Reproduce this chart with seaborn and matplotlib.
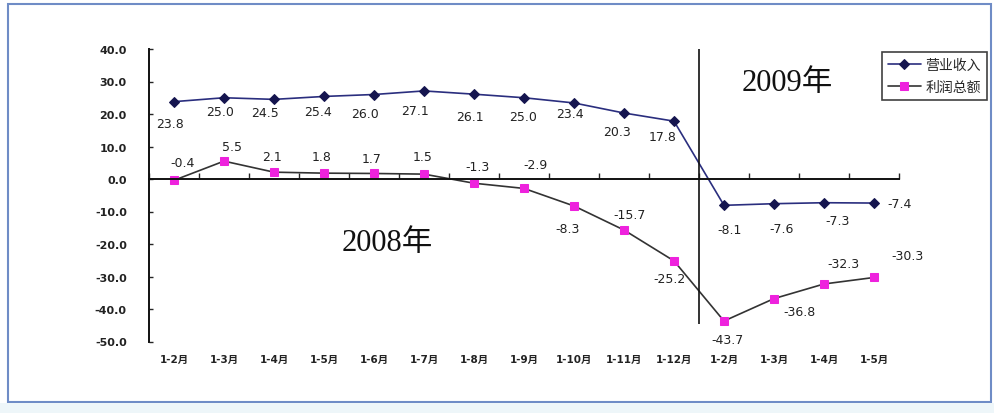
import numpy as np
import matplotlib.pyplot as plt
import seaborn as sns
from matplotlib.patches import Rectangle
from matplotlib.ticker import FormatStrFormatter

# Data (cumulative growth, %)
categories = ['1-2月', '1-3月', '1-4月', '1-5月', '1-6月', '1-7月', '1-8月', '1-9月',
              '1-10月', '1-11月', '1-12月', '1-2月', '1-3月', '1-4月', '1-5月']
revenue = [23.8, 25.0, 24.5, 25.4, 26.0, 27.1, 26.1, 25.0, 23.4, 20.3, 17.8,
           -8.1, -7.6, -7.3, -7.4]
profit = [-0.4, 5.5, 2.1, 1.8, 1.7, 1.5, -1.3, -2.9, -8.3, -15.7, -25.2,
          -43.7, -36.8, -32.3, -30.3]
series_names = ['营业收入', '利润总额']

# label offsets in pixels (dx, dy with dy pointing down)
rev_offsets = [(-4, 22), (-4, 14), (-9, 13), (-6, 15), (-9, 19), (-9, 20), (-4, 22), (-1, 19),
               (-4, 11), (-7, 18), (-11, 15), (6, 24), (8, 25), (14, 18), (26, 0)]
pro_offsets = [(9, -18), (8, -15), (-2, -16), (-2, -17), (-2, -15), (-1, -18), (4, -17), (11, -24),
               (-6, 23), (6, -16), (-4, 18), (3, 18), (26, 13), (19, -20), (33, -22)]

sns.set_style('white')
plt.rcParams['font.family'] = ['DejaVu Sans', 'Noto Sans CJK SC']

fig = plt.figure(figsize=(9.94, 4.14), dpi=100)
fig.patch.set_facecolor('white')
ax = fig.add_axes([149 / 994, 1 - 342.5 / 414, 750 / 994, 292.5 / 414])

x = np.arange(len(categories))
rev_color = '#2a2e7e'
pro_color = '#ee22dd'

sns.lineplot(x=x, y=revenue, ax=ax, color=rev_color, lw=1.2, marker='D', markersize=5.5,
             markerfacecolor='#15154f', markeredgecolor='#15154f', label=series_names[0])
sns.lineplot(x=x, y=profit, ax=ax, color='#333333', lw=1.2, marker='s', markersize=6,
             markerfacecolor=pro_color, markeredgecolor=pro_color, label=series_names[1])

lab_font = dict(fontsize=9, color='#222222', ha='center', va='center')
for i in range(len(x)):
    dx, dy = rev_offsets[i]
    ax.annotate(f'{revenue[i]:.1f}', (x[i], revenue[i]), xytext=(dx, -dy),
                textcoords='offset pixels', **lab_font)
    dx, dy = pro_offsets[i]
    ax.annotate(f'{profit[i]:.1f}', (x[i], profit[i]), xytext=(dx, -dy),
                textcoords='offset pixels', **lab_font)

# divider between 2008 and 2009
ax.vlines(10.5, -44.5, 40, color='#111111', lw=1.2)

year_font = dict(fontsize=22, color='#111111', ha='center', va='center',
                 family=['Liberation Serif', 'Noto Sans CJK SC'])
ax.text(4.26, -19.4, '2008年', **year_font)
ax.text(12.26, 29.8, '2009年', **year_font)

ax.set_xlim(-0.5, 14.5)
ax.set_ylim(-50, 40)
ax.set_yticks(np.arange(-50, 41, 10))
ax.yaxis.set_major_formatter(FormatStrFormatter('%.1f'))
ax.tick_params(axis='y', direction='in', length=3, width=1, pad=16,
               labelsize=8, labelcolor='#222222', left=True)
for t in ax.get_yticklabels():
    t.set_fontweight('bold')

ax.spines['top'].set_visible(False)
ax.spines['right'].set_visible(False)
ax.spines['left'].set_linewidth(1.4)
ax.spines['left'].set_color('#111111')
ax.spines['bottom'].set_position(('data', 0))
ax.spines['bottom'].set_linewidth(1.4)
ax.spines['bottom'].set_color('#111111')
ax.set_xticks(np.arange(-0.5, 15, 1))
ax.set_xticklabels([])
ax.tick_params(axis='x', direction='in', length=4, width=1, bottom=True)

sec = ax.secondary_xaxis('bottom')
sec.set_xticks(x)
sec.set_xticklabels(categories, fontsize=7.5, fontweight='bold', color='#222222')
sec.tick_params(length=0, pad=9)
sec.spines['bottom'].set_visible(False)

leg = ax.legend(loc='upper right', bbox_to_anchor=(987 / 994, 1 - 53 / 414),
                bbox_transform=fig.transFigure, frameon=True, fancybox=False,
                edgecolor='#111111', fontsize=10, handlelength=2.4, handletextpad=0.3,
                borderpad=0.45, labelspacing=0.55, borderaxespad=0)
leg.get_frame().set_linewidth(1.2)

# slide frame
fig.add_artist(Rectangle((8 / 994, 1 - 403 / 414), 983 / 994, 398 / 414,
                         transform=fig.transFigure, fill=False,
                         edgecolor='#6f8cc6', lw=1.5))
fig.add_artist(Rectangle((0, 0), 1, 10 / 414, transform=fig.transFigure,
                         facecolor='#eef6f9', edgecolor='none'))

fig.savefig('out.png', dpi=100)
